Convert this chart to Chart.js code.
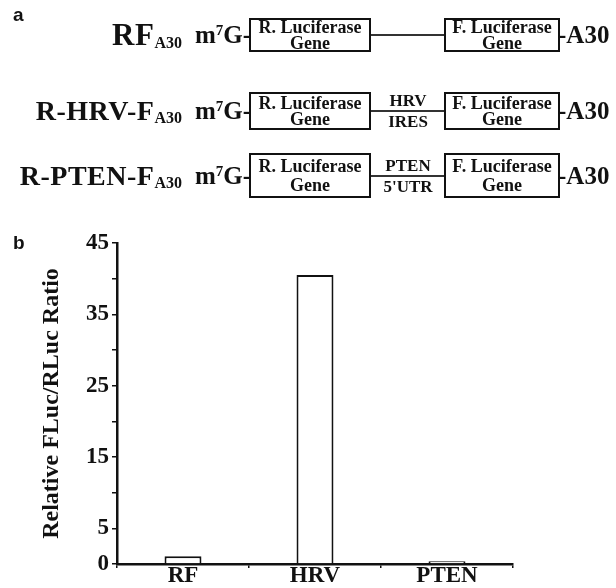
<!DOCTYPE html>
<html>
<head>
<meta charset="utf-8">
<script src="https://cdn.jsdelivr.net/npm/chart.js@4/dist/chart.umd.min.js"></script>
<style>
  html, body { margin: 0; padding: 0; background: #fff; }
  #page { position: relative; width: 616px; height: 588px; overflow: hidden; }
  #chartWrap { position: absolute; left: 0; top: 0; width: 616px; height: 588px; }
  .serif { font-family: "Liberation Serif", "Times New Roman", serif; font-weight: bold; color: #111; }
  .panel { position: absolute; font-family: "Liberation Sans", Arial, sans-serif; font-weight: bold; font-size: 19px; color: #111; }
  .row { position: absolute; left: 0; width: 616px; }
  .lbl { position: absolute; white-space: nowrap; font-size: 25px; }
  .big { font-size: 28px; letter-spacing: 0.5px; }
  .lbl sub { font-size: 16px; vertical-align: -3px; line-height: 0; letter-spacing: 0; }
  .lbl sup { font-size: 15px; vertical-align: 8px; line-height: 0; }
  .box { position: absolute; box-sizing: border-box; border: 2px solid #111; text-align: center; font-size: 18px; line-height: 16px; display: flex; flex-direction: column; justify-content: center; }
  .link { position: absolute; height: 0; border-top: 2px solid #333; }
  .mid { position: absolute; font-size: 17px; line-height: 17px; text-align: center; width: 80px; }
</style>
</head>
<body>
<div id="page">
  <div id="chartWrap"><canvas id="c" width="616" height="588"></canvas></div>
  <div class="panel" style="left:13px; top:4px;">a</div>
  <div class="panel" style="left:13px; top:232px;">b</div>
  <div id="diagram"></div>
</div>
<script>
// ---- chart data ----
const categories = ['RF', 'HRV', 'PTEN'];
const ratioValues = [1.1, 40.5, 0.4];
const yTickLabels = [0, 5, 15, 25, 35, 45];
const yTitle = 'Relative FLuc/RLuc Ratio';

// ---- construct diagram (panel a) ----
const constructs = [
  { label: 'RF', sub: 'A30', mid: ['', ''], top: 18, h: 34 },
  { label: 'R-HRV-F', sub: 'A30', mid: ['HRV', 'IRES'], top: 92, h: 38 },
  { label: 'R-PTEN-F', sub: 'A30', mid: ['PTEN', "5'UTR"], top: 153, h: 45 }
];
const diag = document.getElementById('diagram');
constructs.forEach((c, i) => {
  const row = document.createElement('div');
  row.className = 'row serif';
  row.style.top = c.top + 'px';
  row.style.height = c.h + 'px';
  const midY = Math.round(c.h / 2);
  row.innerHTML =
    `<div class="lbl big" style="right:${616 - 182}px; top:0; line-height:${c.h}px;${i === 0 ? ' font-size:31px;' : ''}">${c.label}<sub>${c.sub}</sub></div>` +
    `<div class="lbl" style="right:${616 - 251}px; top:0; line-height:${c.h}px;">m<sup>7</sup>G-</div>` +
    `<div class="box" style="left:249px; top:0; width:122px; height:${c.h}px; line-height:${c.h > 40 ? 19 : 16}px;"><span>R. Luciferase</span><span>Gene</span></div>` +
    `<div class="link" style="left:371px; width:73px; top:${midY - 1}px;"></div>` +
    `<div class="mid" style="left:368px; top:${midY - 19}px;">${c.mid[0]}</div>` +
    `<div class="mid" style="left:368px; top:${midY + 2}px;">${c.mid[1]}</div>` +
    `<div class="box" style="left:444px; top:0; width:116px; height:${c.h}px; line-height:${c.h > 40 ? 19 : 16}px;"><span>F. Luciferase</span><span>Gene</span></div>` +
    `<div class="lbl" style="left:558px; top:0; line-height:${c.h}px;">-A30</div>`;
  diag.appendChild(row);
});

// ---- chart (panel b) ----
const serif = '"Liberation Serif", "Times New Roman", serif';
new Chart(document.getElementById('c'), {
  type: 'bar',
  data: {
    labels: categories,
    datasets: [{
      data: ratioValues,
      backgroundColor: '#ffffff',
      borderColor: '#111111',
      borderWidth: 2,
      barPercentage: 0.28,
      categoryPercentage: 1.0
    }]
  },
  options: {
    responsive: false,
    animation: false,
    layout: { padding: { left: 0, right: 103, top: 243, bottom: 0 } },
    plugins: { legend: { display: false }, tooltip: { enabled: false } },
    scales: {
      x: {
        grid: { offset: true, drawOnChartArea: false, tickLength: 4, color: '#111', lineWidth: 1.5 },
        border: { display: true, color: '#111', width: 2.5 },
        ticks: { color: '#111', padding: -6, font: { family: serif, weight: 'bold', size: 23 } },
        afterFit: (s) => { s.height = 24; }
      },
      y: {
        min: 0, max: 45,
        grid: { drawOnChartArea: false, tickLength: 5, color: '#111', lineWidth: 1.5 },
        border: { display: true, color: '#111', width: 2.5 },
        ticks: {
          stepSize: 5, color: '#111', padding: 3,
          font: { family: serif, weight: 'bold', size: 23 },
          callback: (v) => yTickLabels.includes(v) ? String(v) : ''
        },
        title: {
          display: true, text: yTitle, color: '#111',
          font: { family: serif, weight: 'bold', size: 24 },
          padding: { top: 37, bottom: 0 }
        },
        afterFit: (s) => { s.width = 117; }
      }
    }
  }
});
</script>
</body>
</html>
